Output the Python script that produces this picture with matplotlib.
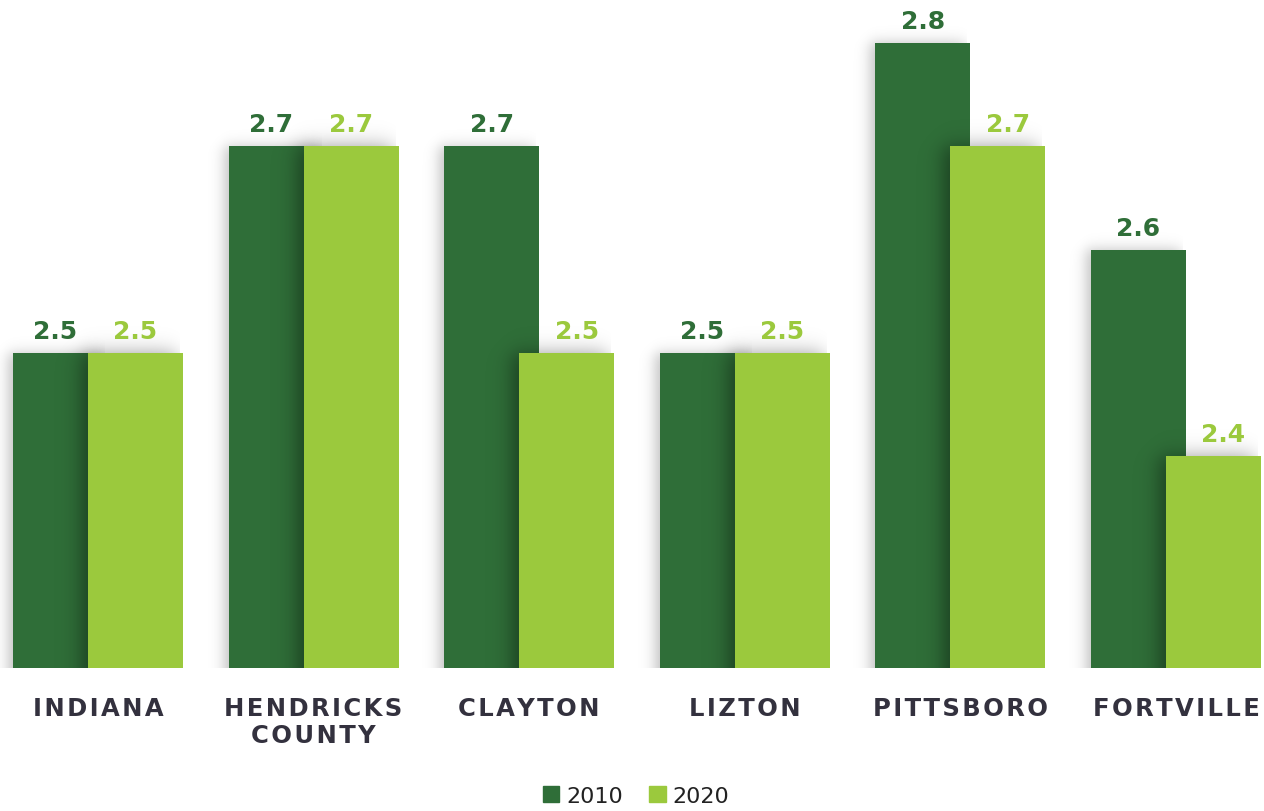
import numpy as np
import matplotlib
matplotlib.use('Agg')
import matplotlib.pyplot as plt
from matplotlib.patches import Patch
from matplotlib.transforms import blended_transform_factory

categories = ['INDIANA', 'HENDRICKS\nCOUNTY', 'CLAYTON', 'LIZTON', 'PITTSBORO', 'FORTVILLE']
values_2010 = [2.5, 2.7, 2.7, 2.5, 2.8, 2.6]
values_2020 = [2.5, 2.7, 2.5, 2.5, 2.7, 2.4]
years = ['2010', '2020']

DARK = '#2f6e38'
LIGHT = '#9bc93d'
TEXT = '#33313e'

W, H = 1264, 812
fig = plt.figure(figsize=(W / 100, H / 100), dpi=100)
ax = fig.add_axes([0, 1 - 669 / H, 1, 669 / H])

# horizontal: one group per 215.6 px, vertical baseline sits a bit below 2.2
px = 1 / 215.6
y0, y1 = 2.1954, 2.8424
ax.set_xlim(-98 * px, (W - 98) * px)
ax.set_ylim(y0, y1)
ax.axis('off')
py = (y1 - y0) / 669

bar_w = 95 * px
shift = 37.5 * px
x = np.arange(len(categories))


def smooth_edge(d, sigma):
    # soft step, roughly a gaussian-blurred edge
    return 1 / (1 + np.exp(-1.7 * d / sigma))


def soft_shadow(left, right, top, alpha_max, offset, sigma, z):
    # blurred copy of the bar moved a few px to the left
    sl = left - offset * px
    sr = right - offset * px
    xa = sl - 4 * sigma * px
    xb = right - 3 * px
    ya = top + 4 * sigma * py
    X = np.linspace(xa, xb, 140)
    Y = np.linspace(ya, y0, 900)
    fx = smooth_edge((X - sl) / px, sigma) * smooth_edge((sr - X) / px, sigma)
    fy = smooth_edge((top - Y) / py, sigma)
    img = np.zeros((len(Y), len(X), 4))
    img[..., 3] = alpha_max * np.outer(fy, fx)
    ax.imshow(img, extent=[xa, xb, y0, ya], aspect='auto',
              interpolation='bilinear', zorder=z)


for i in range(len(categories)):
    l1 = x[i] - shift - bar_w / 2
    soft_shadow(l1, l1 + bar_w, values_2010[i], 0.24, 5, 7, 1)
    l2 = x[i] + shift - bar_w / 2
    soft_shadow(l2, l2 + bar_w, values_2020[i], 0.40, 7, 10, 3)

ax.bar(x - shift, values_2010, bar_w, color=DARK, zorder=2)
ax.bar(x + shift, values_2020, bar_w, color=LIGHT, zorder=4)

# value labels above the bars
for i in range(len(categories)):
    v1, v2 = values_2010[i], values_2020[i]
    dx1 = -5 if v1 == v2 else 0
    dx2 = 0 if v1 == v2 else 10
    ax.annotate(f'{v1:.1f}', (x[i] - shift, v1), xytext=(dx1 * 0.72, 15 * 0.72),
                textcoords='offset points', ha='center', va='baseline',
                fontsize=18, fontweight='bold', color=DARK, zorder=6)
    ax.annotate(f'{v2:.1f}', (x[i] + shift, v2), xytext=(dx2 * 0.72, 15 * 0.72),
                textcoords='offset points', ha='center', va='baseline',
                fontsize=18, fontweight='bold', color=LIGHT, zorder=6)

# category names, letter-spaced, one text per line
trans = blended_transform_factory(ax.transData, fig.transFigure)
for i, name in enumerate(categories):
    for k, line in enumerate(name.split('\n')):
        ax.text(x[i], 1 - (716 + 27 * k) / H, '\u200a'.join(line), transform=trans,
                ha='center', va='baseline', fontsize=17.5, fontweight='bold',
                color=TEXT, family=['DejaVu Sans'])

handles = [Patch(color=DARK, label=years[0]), Patch(color=LIGHT, label=years[1])]
leg = fig.legend(handles=handles, loc='center', bbox_to_anchor=(636 / W, 1 - 797 / H),
                 ncol=2, frameon=False, fontsize=16, handlelength=0.75, handleheight=0.75,
                 handletextpad=0.3, columnspacing=1.2, borderpad=0)
for t in leg.get_texts():
    t.set_color('#222222')

fig.savefig('out.png', dpi=100)
